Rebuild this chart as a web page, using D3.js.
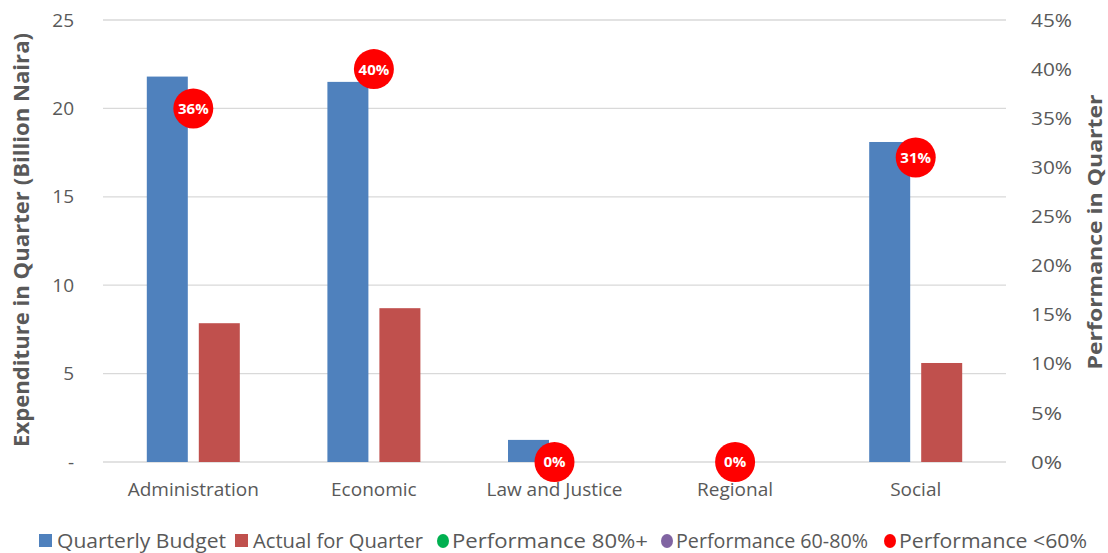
<!DOCTYPE html>
<html>
<head>
<meta charset="utf-8">
<script src="https://cdn.jsdelivr.net/npm/d3@7"></script>
<style>
  body { margin: 0; background: #fff; }
  text { font-family: "Open Sans", "Noto Sans", sans-serif; fill: #595959; }
</style>
</head>
<body>
<div id="chart"></div>
<script>
// data
const categories = ["Administration", "Economic", "Law and Justice", "Regional", "Social"];
const budget = [21.8, 21.5, 1.25, 0, 18.1];
const actual = [7.85, 8.7, 0, 0, 5.6];
const performance = [0.36, 0.40, 0, 0, 0.31];
const leftTicks = [0, 5, 10, 15, 20, 25];
const rightTicks = [0, 0.05, 0.1, 0.15, 0.2, 0.25, 0.3, 0.35, 0.4, 0.45];
const legendItems = [
  { label: "Quarterly Budget", color: "#4f81bd", shape: "rect" },
  { label: "Actual for Quarter", color: "#c0504d", shape: "rect" },
  { label: "Performance 80%+", color: "#00b050", shape: "circle" },
  { label: "Performance 60-80%", color: "#8064a2", shape: "circle" },
  { label: "Performance <60%", color: "#ff0000", shape: "circle" }
];

const width = 1108;
const height = 553;
const margin = { top: 20, right: 102, bottom: 91, left: 103 };

const svg = d3.select("#chart")
  .append("svg")
  .attr("width", width)
  .attr("height", height);

const x = d3.scaleBand()
  .domain(categories)
  .range([margin.left, width - margin.right]);

const y = d3.scaleLinear()
  .domain([0, 25])
  .range([height - margin.bottom, margin.top]);

const yPerf = d3.scaleLinear()
  .domain([0, 0.45])
  .range([height - margin.bottom, margin.top]);

// gridlines
svg.append("g")
  .selectAll("line")
  .data(leftTicks)
  .join("line")
  .attr("x1", margin.left)
  .attr("x2", width - margin.right)
  .attr("y1", d => y(d))
  .attr("y2", d => y(d))
  .attr("stroke", "#d9d9d9")
  .attr("stroke-width", 1.3);

// left axis labels
svg.append("g")
  .selectAll("text")
  .data(leftTicks)
  .join("text")
  .attr("x", 74)
  .attr("y", d => y(d))
  .attr("dy", "0.35em")
  .attr("text-anchor", "end")
  .attr("font-size", 19)
  .text(d => d === 0 ? "-" : d);

// right axis labels
svg.append("g")
  .selectAll("text")
  .data(rightTicks)
  .join("text")
  .attr("x", 1031)
  .attr("y", d => yPerf(d))
  .attr("dy", "0.35em")
  .attr("font-size", 19)
  .attr("textLength", d => d < 0.1 ? 31 : 41)
  .attr("lengthAdjust", "spacingAndGlyphs")
  .text(d => Math.round(d * 100) + "%");

// axis titles
svg.append("text")
  .attr("transform", "translate(22,240) rotate(-90)")
  .attr("text-anchor", "middle")
  .attr("dy", "0.35em")
  .attr("font-size", 21)
  .attr("font-weight", "bold")
  .attr("textLength", 414)
  .attr("lengthAdjust", "spacingAndGlyphs")
  .text("Expenditure in Quarter (Billion Naira)");

svg.append("text")
  .attr("transform", "translate(1095,232) rotate(-90)")
  .attr("text-anchor", "middle")
  .attr("dy", "0.35em")
  .attr("font-size", 20)
  .attr("font-weight", "bold")
  .attr("textLength", 275)
  .attr("lengthAdjust", "spacingAndGlyphs")
  .text("Performance in Quarter");

// bars
const barW = 41;
const gap = 11;

svg.append("g")
  .selectAll("rect")
  .data(categories)
  .join("rect")
  .attr("x", d => x(d) + x.bandwidth() / 2 - gap / 2 - barW)
  .attr("y", (d, i) => y(budget[i]))
  .attr("width", barW)
  .attr("height", (d, i) => y(0) - y(budget[i]))
  .attr("fill", "#4f81bd");

svg.append("g")
  .selectAll("rect")
  .data(categories)
  .join("rect")
  .attr("x", d => x(d) + x.bandwidth() / 2 + gap / 2)
  .attr("y", (d, i) => y(actual[i]))
  .attr("width", barW)
  .attr("height", (d, i) => y(0) - y(actual[i]))
  .attr("fill", "#c0504d");

// performance markers
const marks = svg.append("g")
  .selectAll("g")
  .data(categories)
  .join("g")
  .attr("transform", (d, i) => `translate(${x(d) + x.bandwidth() / 2},${yPerf(performance[i])})`);

marks.append("circle")
  .attr("r", 20)
  .attr("fill", "#ff0000");

marks.append("text")
  .attr("text-anchor", "middle")
  .attr("dy", "0.36em")
  .attr("font-size", 15)
  .attr("font-weight", "bold")
  .style("fill", "#fff")
  .text((d, i) => Math.round(performance[i] * 100) + "%");

// category labels
svg.append("g")
  .selectAll("text")
  .data(categories)
  .join("text")
  .attr("x", d => x(d) + x.bandwidth() / 2)
  .attr("y", 489)
  .attr("dy", "0.35em")
  .attr("text-anchor", "middle")
  .attr("font-size", 19)
  .text(d => d);

// legend
const legendTextX = [57, 253, 452, 676, 899];
const legendTextW = [169, 170, 196, 192, 188];
const legend = svg.append("g")
  .selectAll("g")
  .data(legendItems)
  .join("g")
  .attr("transform", (d, i) => `translate(${legendTextX[i]},541)`);

legend.filter(d => d.shape === "rect")
  .append("rect")
  .attr("x", -18)
  .attr("y", -7)
  .attr("width", 13)
  .attr("height", 13)
  .attr("fill", d => d.color);

legend.filter(d => d.shape === "circle")
  .append("ellipse")
  .attr("cx", -9)
  .attr("cy", 0)
  .attr("rx", 6)
  .attr("ry", 7)
  .attr("fill", d => d.color);

legend.append("text")
  .attr("dy", "0.35em")
  .attr("font-size", 20)
  .attr("textLength", (d, i) => legendTextW[i])
  .attr("lengthAdjust", "spacingAndGlyphs")
  .text(d => d.label);
</script>
</body>
</html>
